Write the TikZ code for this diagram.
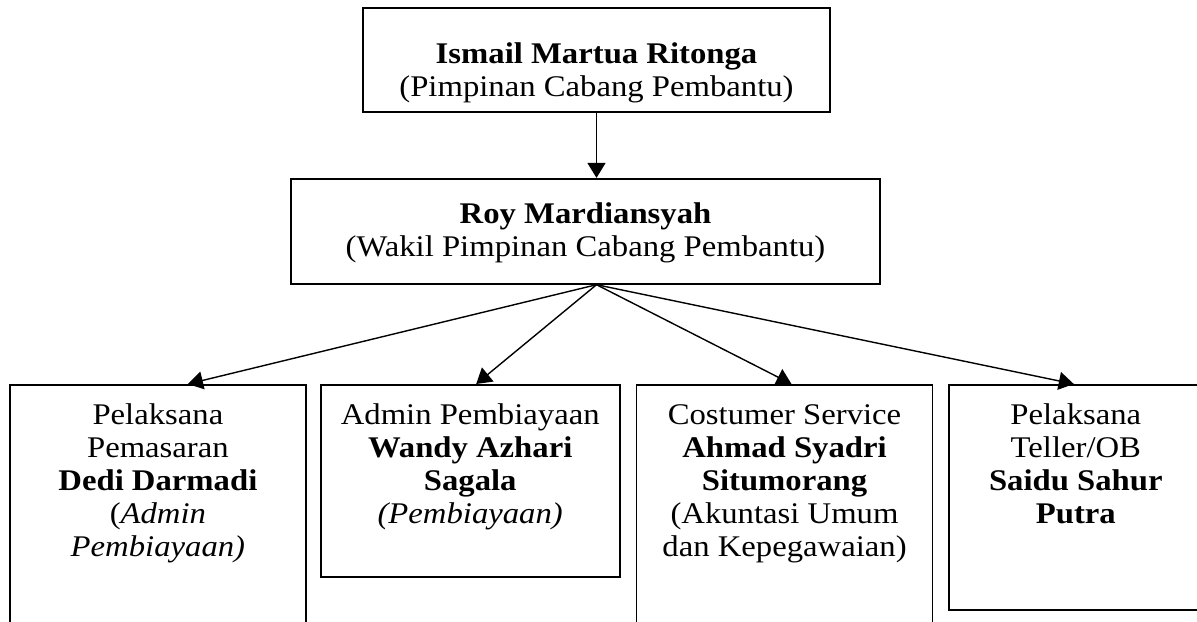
\documentclass[tikz,border=0pt]{standalone}
\usepackage{fontspec}
\setmainfont{Liberation Serif}[FakeStretch=1.09]
\usepackage{tikz}
\usetikzlibrary{arrows.meta, positioning}
\tikzstyle{unitbox} = [rectangle, draw=black, line width=0.9pt,
inner ysep=0pt, align=center,
font=\fontsize{15}{16.5}\selectfont]
\tikzstyle{staffbox} = [unitbox, anchor=north west]
\tikzstyle{arrow} = [-{Triangle[length=7.5pt, width=9pt]}, line width=0.7pt, draw=black]

\begin{document}
\begin{tikzpicture}[x=0.5pt, y=-0.5pt]
    \fill[white] (0,0) rectangle (1197,621);
    \useasboundingbox (0,0) rectangle (1197,621);
    \clip (0,0) rectangle (1197,621);

    \node (pinca)  [unitbox, minimum width=233.5pt, text height=44pt, text depth=8pt]
        at (596.5,60) {\textbf{Ismail Martua Ritonga}\\(Pimpinan Cabang Pembantu)};
    \node (wakil)  [unitbox, minimum width=294.5pt, text height=39pt, text depth=13.5pt,
        below=32.5pt of pinca, xshift=-5.5pt]
        {\textbf{Roy Mardiansyah}\\(Wakil Pimpinan Cabang Pembantu)};

    \node (pemasar) [staffbox, minimum width=148pt, text height=86pt, text depth=54pt] at (9,384)
        {Pelaksana\\Pemasaran\\\textbf{Dedi Darmadi}\\(\textit{Admin}\\\textit{Pembiayaan)}};
    \node (admin)   [staffbox, minimum width=149.5pt, text height=69.5pt, text depth=26.5pt,
        right=6.5pt of pemasar.north east, anchor=north west]
        {Admin Pembiayaan\\\textbf{Wandy Azhari}\\\textbf{Sagala}\\\textit{(Pembiayaan)}};
    \node (cs)      [staffbox, minimum width=148pt, text height=86pt, text depth=54pt,
        right=7.5pt of admin.north east, anchor=north west]
        {Costumer Service\\\textbf{Ahmad Syadri}\\\textbf{Situmorang}\\(Akuntasi Umum\\dan Kepegawaian)};
    \node (teller)  [staffbox, minimum width=126.5pt, text height=69.5pt, text depth=43pt,
        right=7.5pt of cs.north east, anchor=north west]
        {Pelaksana\\Teller/OB\\\textbf{Saidu Sahur}\\\textbf{Putra}};

    \coordinate (hub) at (pinca.south |- wakil.south);

    \draw[arrow] (pinca.south) -- (pinca.south |- wakil.north);
    \draw[arrow] (hub) -- ([xshift=15pt]pemasar.north);
    \draw[arrow] (hub) -- ([xshift=3pt]admin.north);
    \draw[arrow] (hub) -- ([xshift=3.5pt]cs.north);
    \draw[arrow] (hub) -- ([xshift=-1pt]teller.north);
\end{tikzpicture}
\end{document}
